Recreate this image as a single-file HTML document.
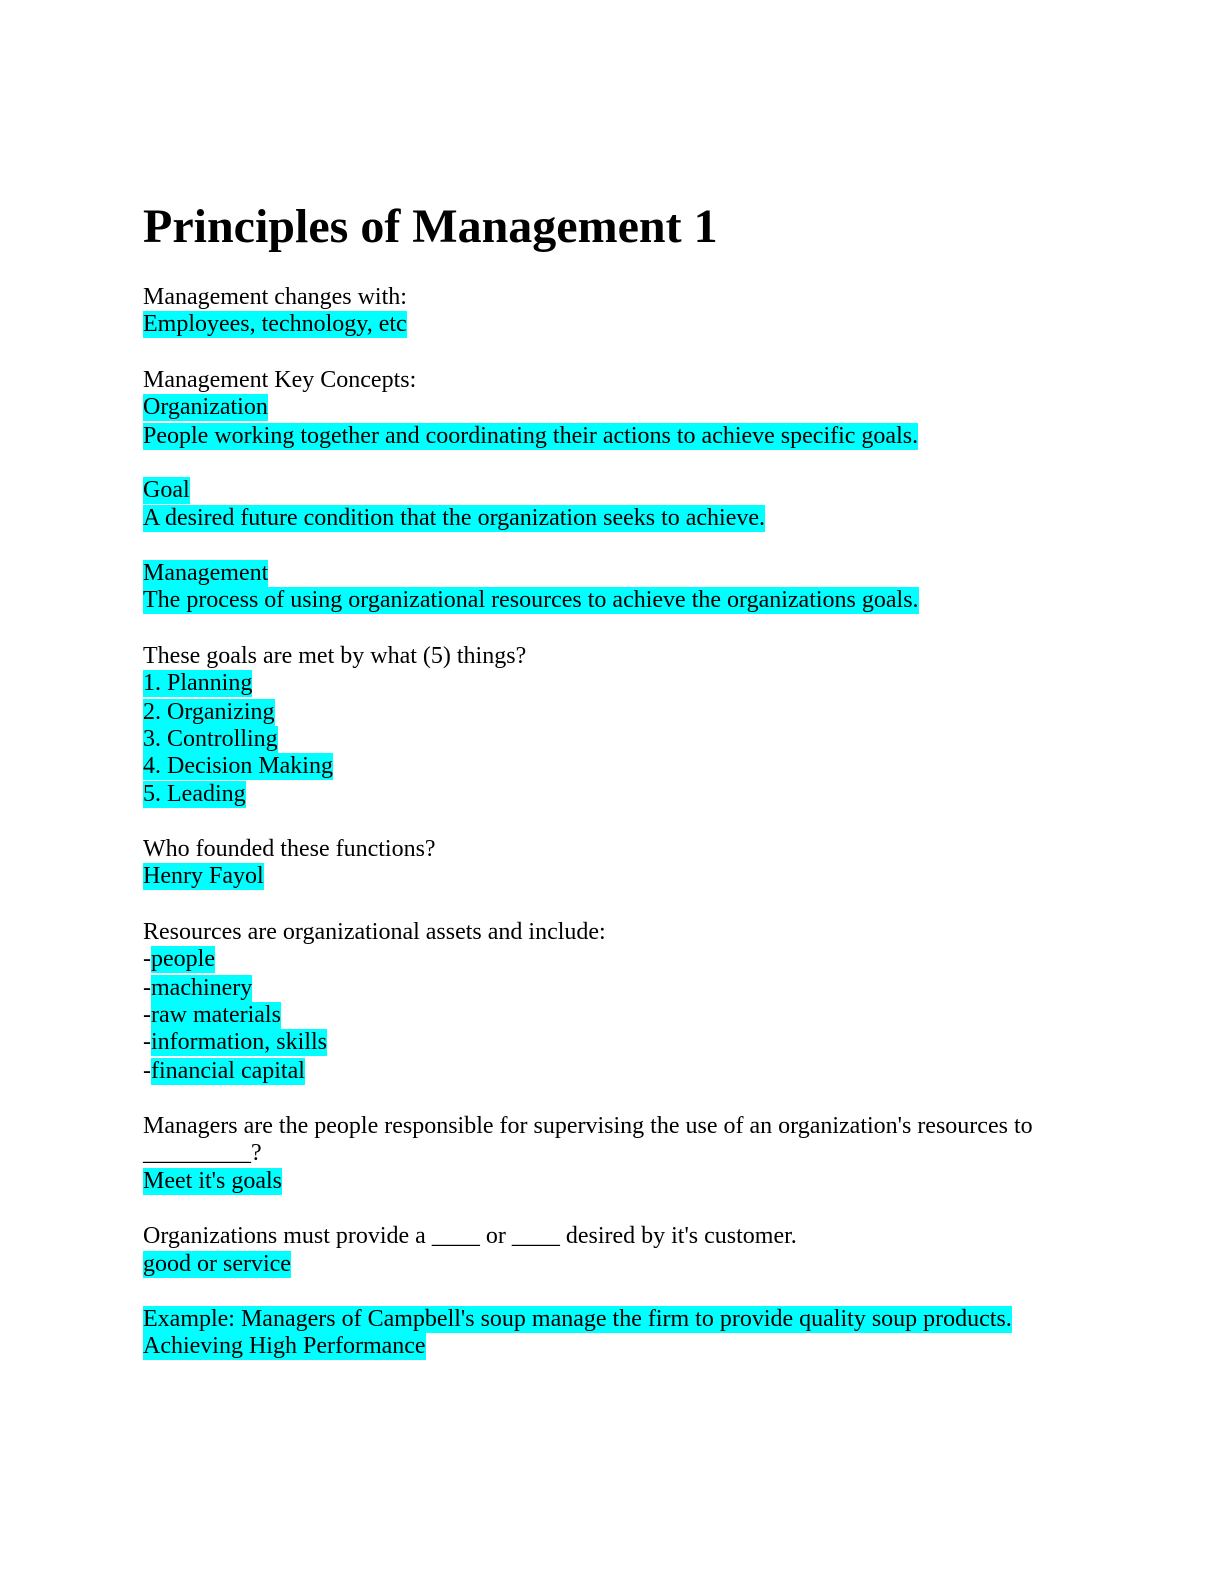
<!DOCTYPE html>
<html><head><meta charset="utf-8"><style>
body{margin:0;width:1224px;height:1584px;background:#fff;position:relative;font-family:"Liberation Serif",serif;color:#000}
.l{position:absolute;left:143px;font-size:24px;line-height:27px;height:27px;white-space:pre;margin-top:3px}
.h{background:#00ffff;display:inline-block;height:27px}
h1{position:absolute;left:143px;top:197px;margin:0;font-size:48px;line-height:60px;font-weight:bold}
</style></head><body>
<h1>Principles of Management 1</h1>
<div class="l" style="top:281px">Management changes with:</div>
<div class="l" style="top:308px"><span class="h">Employees, technology, etc</span></div>
<div class="l" style="top:364px">Management Key Concepts:</div>
<div class="l" style="top:391px"><span class="h">Organization</span></div>
<div class="l" style="top:420px"><span class="h">People working together and coordinating their actions to achieve specific goals.</span></div>
<div class="l" style="top:474px"><span class="h">Goal</span></div>
<div class="l" style="top:502px"><span class="h">A desired future condition that the organization seeks to achieve.</span></div>
<div class="l" style="top:557px"><span class="h">Management</span></div>
<div class="l" style="top:584px"><span class="h">The process of using organizational resources to achieve the organizations goals.</span></div>
<div class="l" style="top:640px">These goals are met by what (5) things?</div>
<div class="l" style="top:667px"><span class="h">1. Planning</span></div>
<div class="l" style="top:696px"><span class="h">2. Organizing</span></div>
<div class="l" style="top:723px"><span class="h">3. Controlling</span></div>
<div class="l" style="top:750px"><span class="h">4. Decision Making</span></div>
<div class="l" style="top:778px"><span class="h">5. Leading</span></div>
<div class="l" style="top:833px">Who founded these functions?</div>
<div class="l" style="top:860px"><span class="h">Henry Fayol</span></div>
<div class="l" style="top:916px">Resources are organizational assets and include:</div>
<div class="l" style="top:943px">-<span class="h">people</span></div>
<div class="l" style="top:972px">-<span class="h">machinery</span></div>
<div class="l" style="top:999px">-<span class="h">raw materials</span></div>
<div class="l" style="top:1026px">-<span class="h">information, skills</span></div>
<div class="l" style="top:1055px">-<span class="h">financial capital</span></div>
<div class="l" style="top:1110px">Managers are the people responsible for supervising the use of an organization's resources to</div>
<div class="l" style="top:1137px">_________?</div>
<div class="l" style="top:1165px"><span class="h">Meet it's goals</span></div>
<div class="l" style="top:1220px">Organizations must provide a ____ or ____ desired by it's customer.</div>
<div class="l" style="top:1248px"><span class="h">good or service</span></div>
<div class="l" style="top:1303px"><span class="h">Example: Managers of Campbell's soup manage the firm to provide quality soup products.</span></div>
<div class="l" style="top:1330px"><span class="h">Achieving High Performance</span></div>
</body></html>
